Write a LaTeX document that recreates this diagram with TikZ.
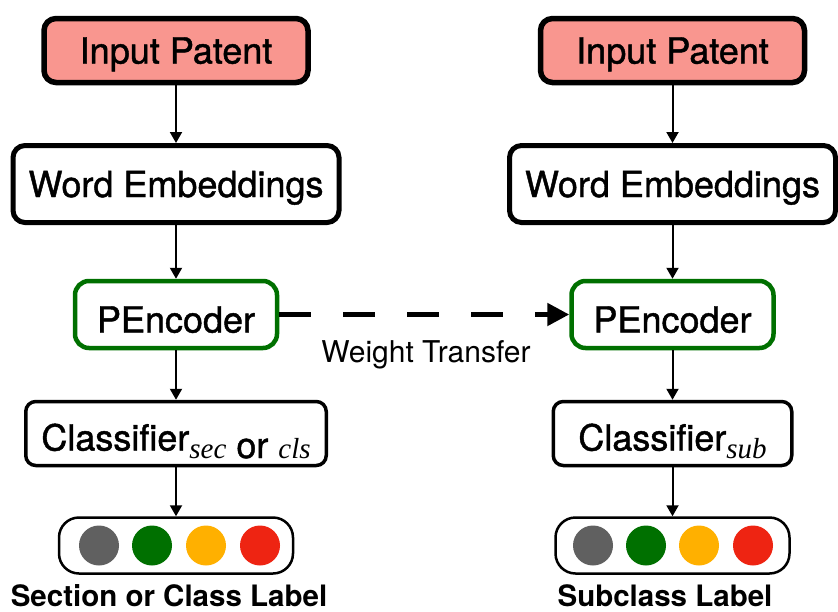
\documentclass[tikz,border=0pt]{standalone}
\usepackage{fontspec}
\setmainfont{TeX Gyre Heros}
\newfontfamily\boxfont[FakeBold=1.2]{TeX Gyre Heros}
\newfontfamily\subserif{Liberation Serif}
\usetikzlibrary{arrows.meta}
\definecolor{patentfill}{HTML}{F9968F}
\definecolor{encgreen}{HTML}{007000}
\definecolor{dotgray}{HTML}{606060}
\definecolor{dotgreen}{HTML}{007000}
\definecolor{dotorange}{HTML}{FFB000}
\definecolor{dotred}{HTML}{EE2412}
% lowered italic serif index after "Classifier"
\newcommand{\clsidx}[1]{\raisebox{-7.5pt}{\fontsize{29}{32}\subserif\itshape #1}}
\newcommand{\clsword}[1]{\raisebox{-7.5pt}{#1}}

\begin{document}
\begin{tikzpicture}[x=1pt,y=-1pt,
  box/.style={draw, rounded corners=12pt, align=center, inner sep=0pt,
    font=\fontsize{36}{40}\boxfont, text height=26pt, text depth=0pt},
  inbox/.style={box, fill=patentfill, line width=5.5pt,
    minimum width=264pt, minimum height=64pt},
  embbox/.style={box, fill=white, line width=5pt,
    minimum width=326pt, minimum height=77pt},
  encbox/.style={box, draw=encgreen, line width=4.5pt, rounded corners=14pt,
    minimum width=202pt, minimum height=67pt, text height=36pt},
  clsbox/.style={box, line width=3.5pt, rounded corners=10pt,
    minimum height=64pt, text height=34pt},
  outbox/.style={draw, line width=2.5pt, rounded corners=20pt,
    minimum width=234pt, minimum height=56pt},
  dot/.style={circle, inner sep=0pt, minimum size=40pt},
  flow/.style={-{Triangle[length=11pt,width=12pt]}, line width=2pt},
  transfer/.style={-{Triangle[length=22pt,width=22pt]}, line width=5pt,
    dash pattern=on 32pt off 32pt},
  caption/.style={font=\fontsize{29.5}{32}\selectfont\bfseries, anchor=base,
    inner sep=0pt, outer sep=0pt, text height=21pt, text depth=0pt}
]
\useasboundingbox (0,0) rectangle (838,611);

% left pipeline
\node[inbox]  (inL)  at (176,50.5)  {Input Patent};
\node[embbox] (embL) at (176,184)   {Word Embeddings};
\node[encbox] (encL) at (176,314.5) {PEncoder};
\node[clsbox, minimum width=300.5pt] (clsL) at (176,433.5)
  {Classifier\clsidx{sec} \clsword{or} \clsidx{cls}};
\node[outbox] (outL) at (176,545.5) {};
\node[dot, fill=dotgray]   (dL1) at (99,545.5)  {};
\node[dot, fill=dotgreen]  (dL2) at (152,545.5) {};
\node[dot, fill=dotorange] (dL3) at (206,545.5) {};
\node[dot, fill=dotred]    (dL4) at (260,545.5) {};
\node[caption] (capL) at (169,606.5) {Section or Class Label};

% right pipeline
\node[inbox]  (inR)  at (672.5,50.5)  {Input Patent};
\node[embbox] (embR) at (672.5,184)   {Word Embeddings};
\node[encbox] (encR) at (672.5,314.5) {PEncoder};
\node[clsbox, minimum width=238.5pt] (clsR) at (672.5,433.5)
  {Classifier\clsidx{sub}};
\node[outbox] (outR) at (672.5,545.5) {};
\node[dot, fill=dotgray]   (dR1) at (593,545.5) {};
\node[dot, fill=dotgreen]  (dR2) at (646,545.5) {};
\node[dot, fill=dotorange] (dR3) at (699,545.5) {};
\node[dot, fill=dotred]    (dR4) at (753,545.5) {};
\node[caption] (capR) at (665,606.5) {Subclass Label};

% vertical flow
\foreach \s in {L,R}{
  \draw[flow] (in\s.south)  -- (emb\s.north);
  \draw[flow] (emb\s.south) -- (enc\s.north);
  \draw[flow] (enc\s.south) -- (cls\s.north);
  \draw[flow] (cls\s.south) -- (out\s.north);
}

% weight transfer between encoders
\draw[transfer] (encL.east) -- (encR.west);
\node[font=\fontsize{30}{34}\selectfont, anchor=base, inner sep=0pt] (wt) at (426,362) {Weight Transfer};
\end{tikzpicture}
\end{document}
